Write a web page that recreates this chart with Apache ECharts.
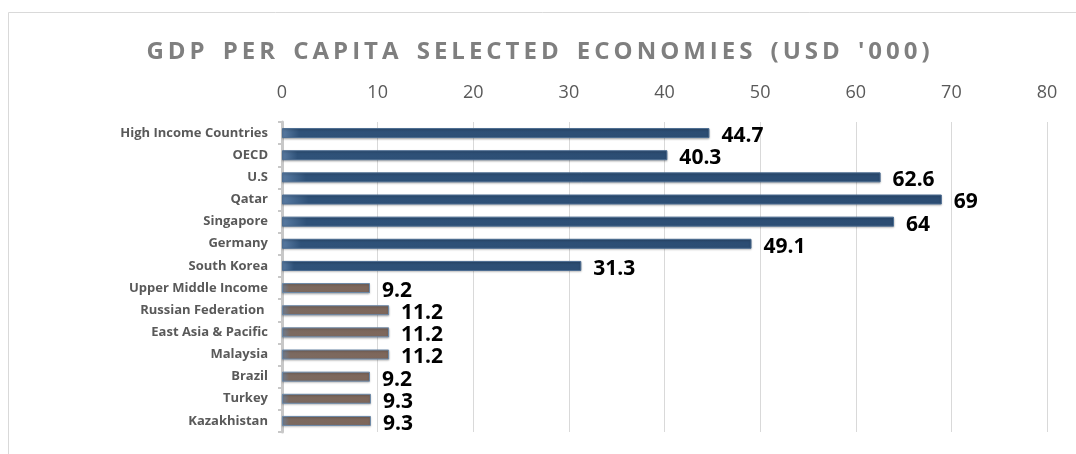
<!DOCTYPE html>
<html><head><meta charset="utf-8">
<script src="https://cdn.jsdelivr.net/npm/echarts@6/dist/echarts.min.js"></script>
<style>html,body{margin:0;padding:0;background:#fff}#c{width:1076px;height:454px}</style>
</head><body><div id="c"></div>
<script>
const categories = ["High Income Countries","OECD","U.S","Qatar","Singapore","Germany","South Korea","Upper Middle Income","Russian Federation ","East Asia & Pacific","Malaysia","Brazil","Turkey","Kazakhistan"];
const values = [44.7,40.3,62.6,69,64,49.1,31.3,9.2,11.2,11.2,11.2,9.2,9.3,9.3];
const highIncomeGroup = [true,true,true,true,true,true,true,false,false,false,false,false,false,false];
const titleText = "GDP PER CAPITA SELECTED ECONOMIES (USD '000)";

const spaced = titleText.split('').map(c => c === ' ' ? ' \u2009' : c).join('\u2009');
const blueFill = new echarts.graphic.LinearGradient(0,0,1,0,[{offset:0,color:'#5A7CA3'},{offset:0.04,color:'#2F5279'},{offset:1,color:'#2C4D73'}]);
const brownFill = new echarts.graphic.LinearGradient(0,0,1,0,[{offset:0,color:'#6F7E92'},{offset:0.08,color:'#7C6A60'},{offset:1,color:'#7E675B'}]);

const chart = echarts.init(document.getElementById('c'));
chart.setOption({
  animation:false,
  graphic:[{type:'rect',shape:{x:8.5,y:12.5,width:1100,height:500},style:{fill:'none',stroke:'#d9d9d9',lineWidth:1}}],
  title:{text:spaced,left:'center',top:35,textStyle:{fontFamily:'Open Sans',fontWeight:'bold',fontSize:24,color:'#7f7f7f'}},
  grid:{left:282,right:29,top:122,bottom:22,containLabel:false},
  xAxis:{type:'value',position:'top',min:0,max:80,interval:10,
    axisLabel:{fontFamily:'Open Sans',fontSize:18,color:'#595959',margin:20},
    axisLine:{show:false},axisTick:{show:false},
    splitLine:{lineStyle:{color:'#d9d9d9',width:1}}},
  yAxis:{type:'category',data:categories,inverse:true,
    axisLine:{lineStyle:{color:'#c8c8c8',width:3}},
    axisTick:{show:true,length:4,lineStyle:{color:'#c8c8c8',width:2}},
    axisLabel:{fontFamily:'Open Sans',fontWeight:'bold',fontSize:13,color:'#595959',margin:14}},
  series:[{type:'bar',barWidth:10,
    data:values.map((v,i)=>({value:v,itemStyle:{color:highIncomeGroup[i]?blueFill:brownFill,borderColor:highIncomeGroup[i]?'#4C6D92':'#6C8AAA',borderWidth:1}})),
    itemStyle:{shadowColor:'rgba(0,0,0,0.25)',shadowBlur:2,shadowOffsetY:1},
    label:{show:true,position:'right',distance:12,fontFamily:'Open Sans',fontWeight:'bold',fontSize:21,color:'#000',offset:[0,3]}}]
});
</script></body></html>
